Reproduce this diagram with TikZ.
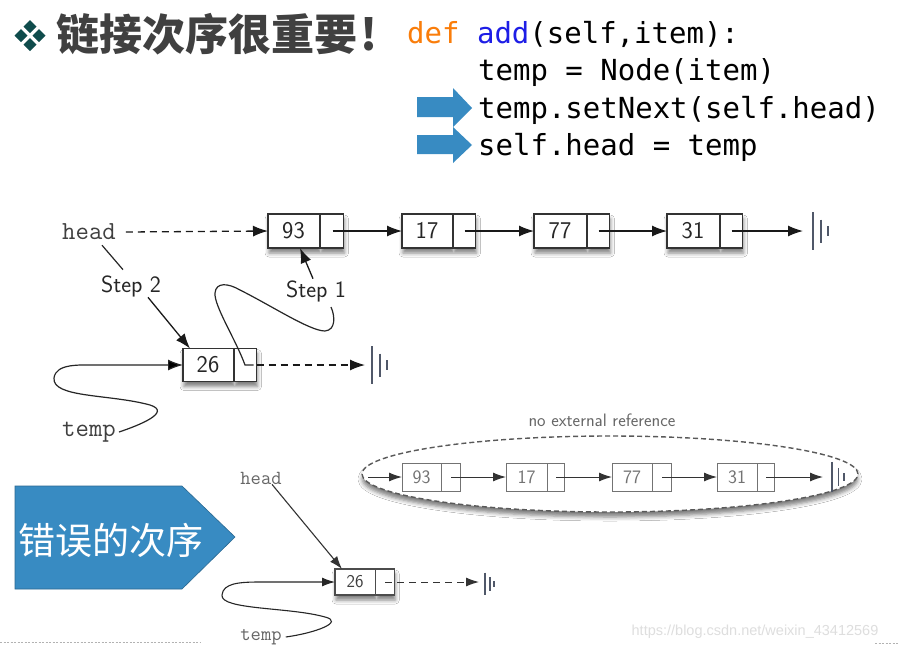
\documentclass[tikz,border=0pt]{standalone}
\usepackage{fontspec}
\newfontfamily\cjk{Noto Sans CJK SC}
\newfontfamily\codefont{DejaVu Sans Mono}
\newfontfamily\wmfont{Liberation Sans}
\usetikzlibrary{arrows.meta,shapes.geometric,shapes.multipart,shadows.blur,calc}
\definecolor{blueA}{RGB}{56,139,194}
\definecolor{defc}{RGB}{250,125,10}
\definecolor{addc}{RGB}{30,30,230}
\definecolor{dteal}{RGB}{15,76,76}
\definecolor{gnd}{RGB}{80,88,105}
\definecolor{titlec}{RGB}{64,64,64}
\newcommand\cellv[3]{\vbox to #3{\vss\hbox to #2{\hss#1\hss}\vss}}
\begin{document}
\begin{tikzpicture}[x=1pt,y=-1pt,
  lnk/.style={line width=1.3pt, draw=black!90, -{Latex[length=15pt,width=11pt]}},
  lnks/.style={line width=1pt, draw=black!80, -{Latex[length=13pt,width=9pt]}},
  dsh/.style={dash pattern=on 7pt off 5pt},
  boxbase/.style={rectangle split, rectangle split horizontal, rectangle split parts=2,
    fill=white, inner sep=0pt, outer sep=0pt, anchor=west},
  shd/.style={blur shadow={shadow xshift=1pt, shadow yshift=-5pt, shadow blur radius=4pt, shadow opacity=50}},
  boxA/.style={boxbase, shd, draw=black!80, line width=1.5pt, font=\sffamily\fontsize{24}{24}\selectfont, text=black!85},
  boxB/.style={boxbase, draw=black!55, line width=1pt, font=\sffamily\fontsize{19}{19}\selectfont, text=black!55},
  boxC/.style={boxbase, shd, draw=black!70, line width=1.3pt, font=\sffamily\fontsize{18}{18}\selectfont, text=black!75},
  tlabel/.style={font=\ttfamily\fontsize{26}{26}\selectfont, text=black!75, inner sep=0pt},
  tlabelS/.style={font=\ttfamily\fontsize{20}{20}\selectfont, text=black!60, inner sep=0pt},
  slabel/.style={font=\sffamily\fontsize{23.5}{23.5}\selectfont, text=black!85, inner sep=0pt},
  crv/.style={line width=1.2pt, draw=black!85},
  code/.style={font=\codefont\fontsize{29}{29}\selectfont, text=black, inner sep=0pt, anchor=base west},
  gndline/.style={draw=gnd, line width=1.8pt},
  groundsym/.pic={\draw[gndline] (0,-19)--(0,19) (8,-11.5)--(8,11.5) (15,-5)--(15,5);}
]
\useasboundingbox (0,0) rectangle (902,651);
\fill[white] (0,0) rectangle (902,651);

% title
\foreach \cx/\cy in {30/26.5,21/35.5,39/35.5,30/44.5}
  \fill[dteal] (\cx,\cy-6.5) -- (\cx+6.5,\cy) -- (\cx,\cy+6.5) -- (\cx-6.5,\cy) -- cycle;
\node[anchor=base west, inner sep=0pt, font=\cjk\bfseries\fontsize{43}{43}\selectfont, text=titlec] (title) at (56,50) {链接次序很重要\hspace{3pt}!};

% code
\node[code] (c1) at (407,43) {{\color{defc}def} {\color{addc}add}(self,item):};
\node[code] (c2) at (478,80) {temp = Node(item)};
\node[code] (c3) at (478,118) {temp.setNext(self.head)};
\node[code] (c4) at (478,155) {self.head = temp};
\fill[blueA] (417,97) -- (453,97) -- (453,88) -- (472,108) -- (453,127) -- (453,117) -- (417,117) -- cycle;
\fill[blueA] (417,135) -- (453,135) -- (453,127) -- (472,145) -- (453,163) -- (453,154) -- (417,154) -- cycle;

% top list
\node[boxA] (n93) at (268,231) {\cellv{93}{51pt}{34pt}\nodepart{two}\cellv{}{23pt}{34pt}};
\node[boxA] (n17) at (402,231) {\cellv{17}{50pt}{34pt}\nodepart{two}\cellv{}{22pt}{34pt}};
\node[boxA] (n77) at (534,231) {\cellv{77}{52pt}{34pt}\nodepart{two}\cellv{}{22pt}{34pt}};
\node[boxA] (n31) at (667,231) {\cellv{31}{52pt}{34pt}\nodepart{two}\cellv{}{22pt}{34pt}};
\draw[lnk] ([xshift=-11pt]n93.east) -- (n17.west);
\draw[lnk] ([xshift=-11pt]n17.east) -- (n77.west);
\draw[lnk] ([xshift=-11pt]n77.east) -- (n31.west);
\coordinate (g1) at (803,231);
\draw[lnk] ([xshift=-11pt]n31.east) -- (g1);
\pic at (813,231) {groundsym};

\node[tlabel] (head1) at (89,232) {head};
\draw[lnk,dsh] ([xshift=10pt]head1.east) -- (n93.west);

\node[boxA] (n26) at (183,365) {\cellv{26}{50pt}{33pt}\nodepart{two}\cellv{}{22pt}{33pt}};
\coordinate (g2) at (365,365);
\draw[lnk,dsh] (n26.east) -- (g2);
\pic at (372,365) {groundsym};

\node[slabel] (step2) at (131,286.5) {Step 2};
\node[slabel] (step1) at (316,291.5) {Step 1};
\draw[crv] ([shift={(13,5)}]head1.south) -- ([shift={(-8,-6)}]step2.north);
\draw[lnk] ([xshift=17pt]step2.south) -- ([xshift=7pt]n26.north west);
\draw[lnk] ([shift={(-3,-2)}]step1.north) -- ([xshift=32pt]n93.south west);
\draw[crv] ([xshift=-3pt]n26.east) -- (245,365) .. controls (236,340) and (214,306) .. (215,293)
  .. controls (216,282) and (228,283) .. (240,290) .. controls (272,306) and (310,331) .. (325,331)
  .. controls (336,330) and (335,316) .. (331,307);

\node[tlabel] (temp1) at (89,432) {temp};
\draw[crv,-{Latex[length=15pt,width=11pt]}] ([xshift=3pt]temp1.east) .. controls (140,425) and (172,412) .. (150,405)
  .. controls (110,394) and (52,398) .. (54,378) .. controls (56,363) and (80,365) .. (100,365) -- (n26.west);

% ellipse
\node[ellipse, draw=black!65, dash pattern=on 5pt off 3pt, line width=1.4pt, fill=white,
  minimum width=496pt, minimum height=76pt,
  blur shadow={shadow xshift=0pt, shadow yshift=-5pt, shadow blur radius=4pt, shadow opacity=50}] (ell) at (610,474) {};
\node[font=\sffamily\fontsize{18}{18}\selectfont, text=black!60, inner sep=0pt] (nxref) at (602,420) {no external reference};
\node[boxB] (m93) at (402,477) {\cellv{93}{39pt}{28pt}\nodepart{two}\cellv{}{18pt}{28pt}};
\node[boxB] (m17) at (506,477) {\cellv{17}{41pt}{28pt}\nodepart{two}\cellv{}{16pt}{28pt}};
\node[boxB] (m77) at (612,477) {\cellv{77}{40pt}{28pt}\nodepart{two}\cellv{}{18pt}{28pt}};
\node[boxB] (m31) at (717,477) {\cellv{31}{40pt}{28pt}\nodepart{two}\cellv{}{16pt}{28pt}};
\coordinate (e0) at (368,477);
\coordinate (g3) at (823,477);
\draw[lnks] (e0) -- (m93.west);
\draw[lnks] ([xshift=-9pt]m93.east) -- (m17.west);
\draw[lnks] ([xshift=-8pt]m17.east) -- (m77.west);
\draw[lnks] ([xshift=-9pt]m77.east) -- (m31.west);
\draw[lnks] ([xshift=-8pt]m31.east) -- (g3);
\pic[scale=0.8] at (832,477) {groundsym};

% wrong order
\fill[blueA, draw=blueA!75!black, line width=0.6pt] (15,486) -- (182,486) -- (235,537) -- (182,589) -- (15,589) -- cycle;
\node[anchor=base west, inner sep=0pt, font=\cjk\fontsize{37}{37}\selectfont, text=white] (wrong) at (18,554) {错误的次序};

\node[tlabelS] (head2) at (261,478) {head};
\node[boxC] (k26) at (335,582) {\cellv{26}{40pt}{26pt}\nodepart{two}\cellv{}{18pt}{26pt}};
\draw[lnks, line width=1.1pt] ([xshift=11pt]head2.south) -- ([xshift=7pt]k26.north west);
\coordinate (g4) at (479,582);
\draw[lnks,dsh] ([xshift=-9pt]k26.east) -- (g4);
\pic[scale=0.6] at (485,584) {groundsym};
\node[tlabelS] (temp2) at (261,637) {temp};
\draw[crv, line width=1.1pt, -{Latex[length=13pt,width=9pt]}] ([xshift=4pt]temp2.east) .. controls (315,633) and (345,622) .. (325,617)
  .. controls (290,607) and (220,610) .. (222,595) .. controls (223,583) and (240,582) .. (260,582) -- (k26.west);

% footer
\draw[black!30, dash pattern=on 2pt off 1.5pt, line width=0.8pt] (0,642) -- (200,642);
\draw[black!30, dash pattern=on 2pt off 1.5pt, line width=0.8pt] (875,643) -- (898,643);
\node[font=\wmfont\fontsize{14.5}{15}\selectfont, text=black!13, inner sep=0pt] (wm) at (755,632) {https://blog.csdn.net/weixin\_43412569};
\end{tikzpicture}
\end{document}
